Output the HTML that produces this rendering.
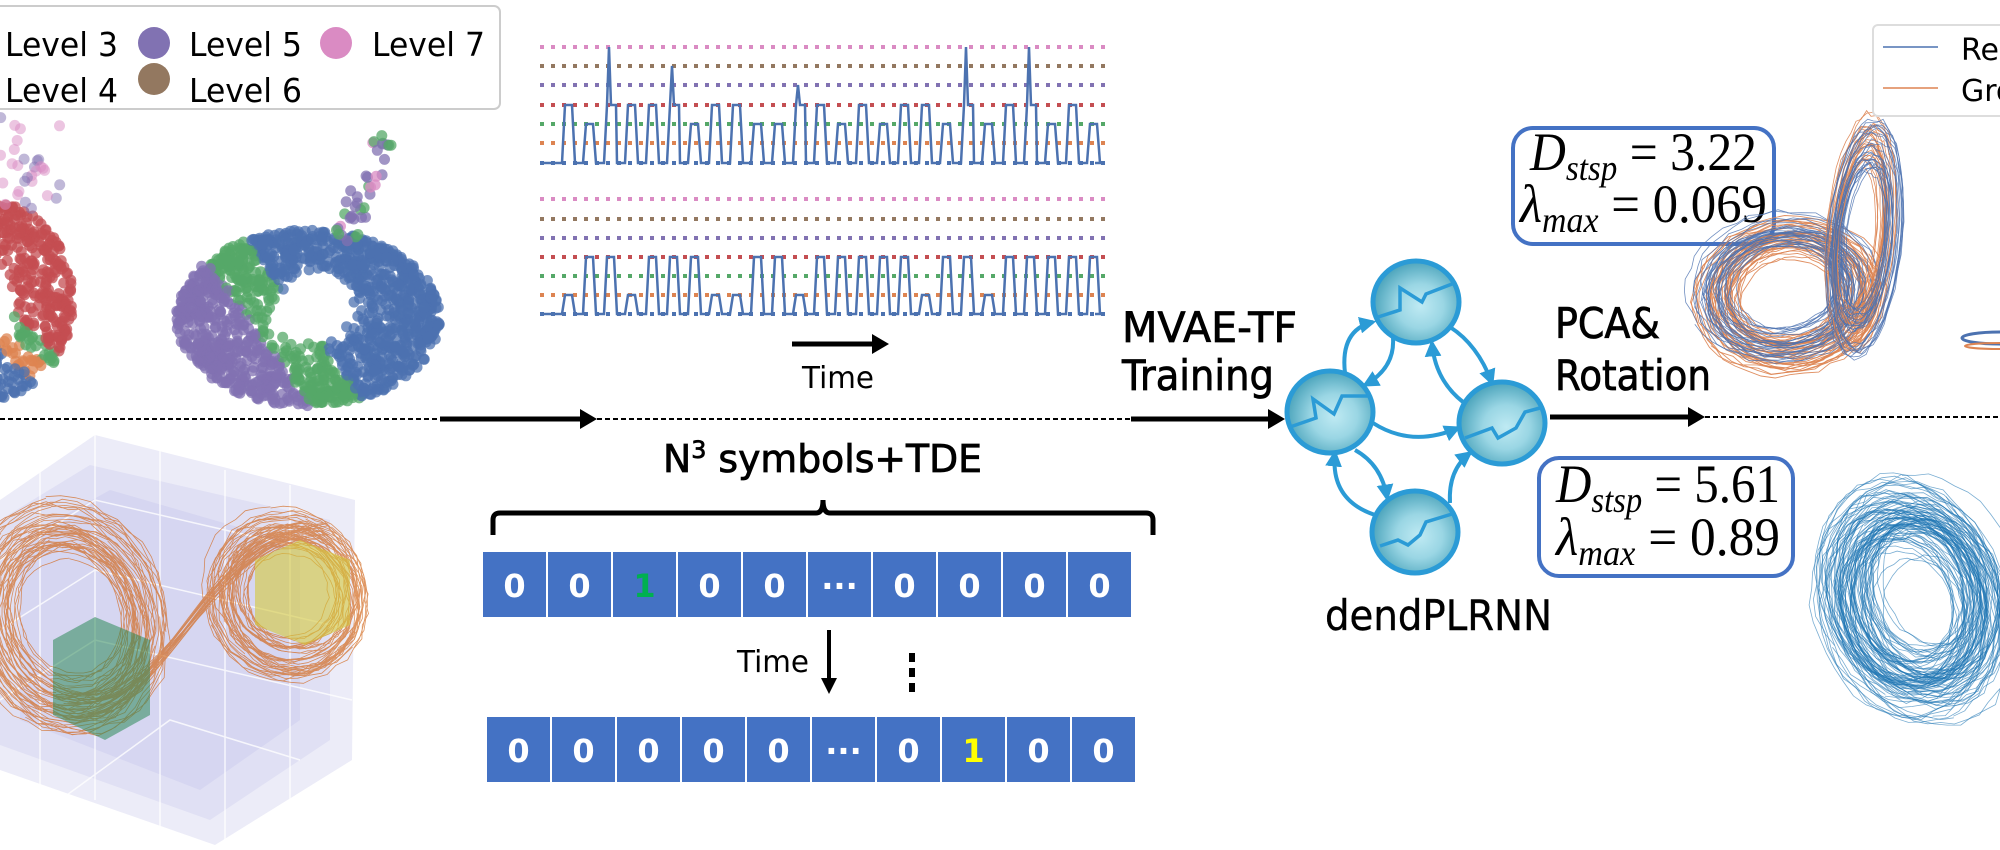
<!DOCTYPE html>
<html><head><meta charset="utf-8">
<style>
html,body{margin:0;padding:0;background:#fff;}
svg{display:block;}
text{font-family:"DejaVu Sans","Liberation Sans",sans-serif;}
.m{font-family:"Liberation Serif","DejaVu Serif",serif;}
</style></head>
<body>
<svg id="s" width="2000" height="850" viewBox="0 0 2000 850" xmlns="http://www.w3.org/2000/svg">
<defs>
<radialGradient id="ng" cx="0.55" cy="0.55" r="0.6">
<stop offset="0" stop-color="#bfeaf3"/><stop offset="0.45" stop-color="#9ad6e4"/><stop offset="1" stop-color="#3f9cb5"/>
</radialGradient>
<marker id="ah" viewBox="0 0 10 10" refX="8" refY="5" markerWidth="4.2" markerHeight="4.2" orient="auto"><path d="M0,0L10,5L0,10z" fill="#2b9bd6"/></marker>
</defs>

<g id="grid">
<polygon points="0,500 95,435 355,500 352,760 215,845 0,770" fill="#ececf8"/>
<polygon points="0,520 90,465 330,520 330,740 210,820 0,745" fill="#dcdcf2" opacity="0.7"/>
<polygon points="20,540 110,490 300,545 300,720 200,790 20,720" fill="#cfcfee" opacity="0.6"/>
<g stroke="#fff" stroke-width="1.5" opacity="0.8" fill="none">
<path d="M40,470 L40,790 M95,435 L95,800 M160,450 L160,830 M225,470 L225,845 M290,485 L290,800"/>
<path d="M0,560 L95,500 L355,560 M0,630 L95,570 L352,630 M0,700 L95,640 L352,700 M60,800 L170,720 L300,760"/>
</g>
</g>
<g id="lorenz" fill="none" stroke="#d2691e" stroke-width="0.8" opacity="0.7"></g>
<polygon points="53,640 95,617 150,640 150,715 105,740 53,715" fill="#2e8b57" opacity="0.55"/>
<polygon points="255,560 300,540 350,560 350,625 305,645 255,625" fill="#d4c83a" opacity="0.6"/>

<rect x="-6" y="6" width="506" height="103" rx="6" fill="#fff" stroke="#ccc" stroke-width="2"/>
<text x="5" y="56" font-size="33" textLength="113" lengthAdjust="spacingAndGlyphs">Level 3</text>
<circle cx="154" cy="43" r="16" fill="#8172b2"/>
<text x="189" y="56" font-size="33" textLength="113" lengthAdjust="spacingAndGlyphs">Level 5</text>
<circle cx="336" cy="43" r="16" fill="#da8bc3"/>
<text x="372" y="56" font-size="33" textLength="113" lengthAdjust="spacingAndGlyphs">Level 7</text>
<text x="5" y="102" font-size="33" textLength="113" lengthAdjust="spacingAndGlyphs">Level 4</text>
<circle cx="154" cy="79" r="16" fill="#937860"/>
<text x="189" y="102" font-size="33" textLength="113" lengthAdjust="spacingAndGlyphs">Level 6</text>

<g id="scatter"></g>
<g id="ts"></g>

<line x1="792" y1="344" x2="878" y2="344" stroke="#000" stroke-width="5"/>
<path d="M872,334 L889,344 L872,354z" fill="#000"/>
<text x="802" y="388" font-size="30" textLength="72" lengthAdjust="spacingAndGlyphs">Time</text>

<line x1="0" y1="419" x2="440" y2="419" stroke="#000" stroke-width="2" stroke-dasharray="5,3"/>
<line x1="440" y1="419" x2="585" y2="419" stroke="#000" stroke-width="5"/>
<path d="M580,409 L597,419 L580,429z" fill="#000"/>
<line x1="597" y1="419" x2="1131" y2="419" stroke="#000" stroke-width="2" stroke-dasharray="5,3"/>
<line x1="1131" y1="419" x2="1272" y2="419" stroke="#000" stroke-width="5"/>
<path d="M1268,409 L1285,419 L1268,429z" fill="#000"/>
<line x1="1550" y1="417" x2="1692" y2="417" stroke="#000" stroke-width="5"/>
<path d="M1688,407 L1705,417 L1688,427z" fill="#000"/>
<line x1="1705" y1="417" x2="2000" y2="417" stroke="#000" stroke-width="2" stroke-dasharray="5,3"/>

<text x="1122" y="342" font-size="42" textLength="175" lengthAdjust="spacingAndGlyphs" stroke="#000" stroke-width="0.8">MVAE-TF</text>
<text x="1122" y="390" font-size="42" textLength="152" lengthAdjust="spacingAndGlyphs" stroke="#000" stroke-width="0.8">Training</text>
<text x="1555" y="338" font-size="42" textLength="105" lengthAdjust="spacingAndGlyphs" stroke="#000" stroke-width="0.8">PCA&amp;</text>
<text x="1555" y="390" font-size="42" textLength="156" lengthAdjust="spacingAndGlyphs" stroke="#000" stroke-width="0.8">Rotation</text>

<g fill="none" stroke="#2b9bd6" stroke-width="4" marker-end="url(#ah)">
<path d="M1345,373 Q1340,330 1373,322"/>
<path d="M1393,338 Q1395,368 1365,385"/>
<path d="M1450,327 Q1478,345 1492,383"/>
<path d="M1463,402 Q1435,380 1432,343"/>
<path d="M1373,423 Q1412,448 1458,428"/>
<path d="M1355,450 Q1382,465 1387,498"/>
<path d="M1375,515 Q1330,500 1335,453"/>
<path d="M1450,503 Q1448,470 1470,453"/>
</g>
<g stroke="#2b9bd6" stroke-width="5" fill="url(#ng)">
<ellipse cx="1416" cy="302" rx="43" ry="41"/>
<ellipse cx="1330" cy="412" rx="43" ry="41"/>
<ellipse cx="1502" cy="423" rx="43" ry="41"/>
<ellipse cx="1415" cy="532" rx="43" ry="41"/>
</g>
<g fill="none" stroke="#2b9bd6" stroke-width="3.5">
<polyline points="1375,318 1400,310 1400,288 1422,302 1426,294 1452,284"/>
<polyline points="1290,427 1316,418 1313,399 1334,414 1342,396 1368,396"/>
<polyline points="1465,438 1492,428 1498,438 1516,428 1525,412 1540,408"/>
<polyline points="1380,546 1398,540 1408,545 1420,535 1426,522 1452,514"/>
</g>
<text x="1325" y="630" font-size="42" textLength="227" lengthAdjust="spacingAndGlyphs" stroke="#000" stroke-width="0.4">dendPLRNN</text>

<rect x="1513" y="128" width="261" height="116" rx="20" fill="#fff" stroke="#4472c4" stroke-width="4"/>
<text class="m" x="1530" y="170" font-size="54" textLength="227" lengthAdjust="spacingAndGlyphs"><tspan font-style="italic">D</tspan><tspan font-style="italic" font-size="36" dy="10">stsp</tspan><tspan dy="-10"> = 3.22</tspan></text>
<text class="m" x="1520" y="222" font-size="54" textLength="247" lengthAdjust="spacingAndGlyphs"><tspan font-style="italic">λ</tspan><tspan font-style="italic" font-size="36" dy="10">max</tspan><tspan dy="-10"> = 0.069</tspan></text>
<rect x="1539" y="458" width="254" height="118" rx="20" fill="#fff" stroke="#4472c4" stroke-width="4"/>
<text class="m" x="1556" y="502" font-size="54" textLength="224" lengthAdjust="spacingAndGlyphs"><tspan font-style="italic">D</tspan><tspan font-style="italic" font-size="36" dy="10">stsp</tspan><tspan dy="-10"> = 5.61</tspan></text>
<text class="m" x="1556" y="555" font-size="54" textLength="224" lengthAdjust="spacingAndGlyphs"><tspan font-style="italic">λ</tspan><tspan font-style="italic" font-size="36" dy="10">max</tspan><tspan dy="-10"> = 0.89</tspan></text>

<g id="attr" fill="none"></g>

<rect x="1873" y="25" width="140" height="91" rx="5" fill="#fff" stroke="#ddd" stroke-width="2"/>
<line x1="1883" y1="47" x2="1938" y2="47" stroke="#4c72b0" stroke-width="1.5"/>
<text x="1961" y="60" font-size="30">Rec</text>
<line x1="1883" y1="88" x2="1938" y2="88" stroke="#dd8452" stroke-width="1.5"/>
<text x="1961" y="101" font-size="30">Gro</text>

<text x="663" y="472" font-size="38" textLength="319" lengthAdjust="spacingAndGlyphs" stroke="#000" stroke-width="0.8">N<tspan font-size="24" dy="-14">3</tspan><tspan dy="14"> symbols+TDE</tspan></text>
<path d="M493,535 L493,520 Q493,513 500,513 L816,513 Q823,513 823,500 Q823,513 830,513 L1146,513 Q1153,513 1153,520 L1153,535" fill="none" stroke="#000" stroke-width="5"/>
<g id="cells"></g>
<line x1="829" y1="630" x2="829" y2="682" stroke="#000" stroke-width="4"/>
<path d="M821,678 L829,694 L837,678z" fill="#000"/>
<text x="737" y="672" font-size="30" textLength="72" lengthAdjust="spacingAndGlyphs">Time</text>
<g fill="#000"><rect x="909" y="653" width="6" height="9"/><rect x="909" y="668" width="6" height="9"/><rect x="909" y="683" width="6" height="9"/></g>
</svg>
<script>
var NS="http://www.w3.org/2000/svg";
function el(p,t,a){var e=document.createElementNS(NS,t);for(var k in a)e.setAttribute(k,a[k]);p.appendChild(e);return e;}
var seed=7;function rnd(){seed=(seed*16807)%2147483647;return (seed-1)/2147483646;}
var ts=document.getElementById('ts');
var cols=["#da8bc3","#937860","#8172b2","#c44e52","#55a868","#dd8452","#4c72b0"];
var ysT=[47,66,85,105,124,143,163],ysB=[199,219,238,257,276,295,314];
[ysT,ysB].forEach(function(ys){ys.forEach(function(y,i){el(ts,'line',{x1:540,y1:y,x2:1110,y2:y,stroke:cols[i],'stroke-width':4,'stroke-dasharray':'4,7'});});});
function series(ys,top){var pts=[],x=562,bi=0;pts.push([540,ys[6]]);
 var spikes=top?{2:ys[0],5:ys[1],11:ys[2],19:ys[0],22:ys[0]}:{};
 while(x<1095){var h;if(spikes[bi]!==undefined)h=spikes[bi];else h=top?(rnd()<0.65?ys[3]:ys[4]):(rnd()<0.75?ys[3]:ys[5]);
  pts.push([x,ys[6]]);
  if(spikes[bi]!==undefined){pts.push([x+3,ys[3]]);pts.push([x+5,h]);pts.push([x+7,ys[3]]);pts.push([x+12,ys[3]]);}
  else {pts.push([x+3,h]);pts.push([x+10,h]);}
  pts.push([x+13,ys[6]]);x+=21;bi++;}
 pts.push([1095,ys[6]]);
 el(ts,'polyline',{points:pts.map(function(p){return p.join(',')}).join(' '),fill:'none',stroke:'#4c72b0','stroke-width':2.5});}
series(ysT,true);series(ysB,false);
var sc=document.getElementById('scatter');
function dot(x,y,c,o){el(sc,'circle',{cx:x.toFixed(1),cy:y.toFixed(1),r:5.5,fill:c,'fill-opacity':o||0.75});}
for(var i=0;i<1500;i++){var a=rnd()*6.283,r=0.28+0.72*Math.sqrt(rnd());
 var x=308+Math.cos(a)*132*r,y=318+Math.sin(a)*88*r;
 var dx=(x-318)/36,dy=(y-297)/26;if(dx*dx+dy*dy<1)continue;
 var s=((x-222)*150-(y-245)*110)/186;var c=s<-22?"#8172b2":(s<22?"#55a868":"#4c72b0");dot(x,y,c);}
for(i=0;i<40;i++){var t=rnd();dot(345+t*45+rnd()*24-12,120+ (1-t)*110+rnd()*15,rnd()<0.15?"#da8bc3":(rnd()<0.25?"#55a868":"#8172b2"));}
for(i=0;i<800;i++){var a2=rnd()*6.283,r2=0.3+0.7*Math.sqrt(rnd());
 var x2=-15+Math.cos(a2)*88*r2,y2=300+Math.sin(a2)*100*r2;if(x2<-5)continue;
 var v=y2-x2*0.9;var c2=v<300?"#c44e52":(v<325?"#55a868":(v<350?"#dd8452":"#4c72b0"));dot(x2,y2,c2);}
for(i=0;i<30;i++){dot(rnd()*60,115+rnd()*95,rnd()<0.6?"#da8bc3":"#8172b2",0.5);}
function loops(g,cx,cy,rx,ry,rot,n,col,w,op,jit){
 for(var j=0;j<n;j++){var k=rnd(),pts=[],ph=rnd()*6.283,sx=rx*(0.55+0.45*k),sy=ry*(0.55+0.45*k),ox=(rnd()-0.5)*jit,oy=(rnd()-0.5)*jit;
  for(var q=0;q<=40;q++){var a=q/40*6.283+ph,rr=1+(rnd()-0.5)*0.06;var px=Math.cos(a)*sx*rr,py=Math.sin(a)*sy*rr;
   var cr=Math.cos(rot),sr=Math.sin(rot);pts.push((cx+ox+px*cr-py*sr).toFixed(1)+','+(cy+oy+px*sr+py*cr).toFixed(1));}
  el(g,'polyline',{points:pts.join(' '),stroke:col,'stroke-width':w,'stroke-opacity':op});}}
var lz=document.getElementById('lorenz');
loops(lz,70,620,95,115,-0.3,45,'#d2691e',0.8,1,25);
loops(lz,290,595,80,85,-0.5,40,'#d2691e',0.8,1,20);
for(i=0;i<20;i++){el(lz,'path',{d:'M'+(60+rnd()*40)+','+(690+rnd()*30)+' C'+(160)+','+(720)+' '+(200+rnd()*20)+','+(520+rnd()*20)+' '+(300+rnd()*30)+','+(520+rnd()*20)});}
var at=document.getElementById('attr');
loops(at,1790,295,95,78,-0.15,40,'#dd8452',0.9,0.9,15);
loops(at,1785,290,95,75,-0.15,30,'#4c72b0',0.8,0.8,15);
loops(at,1860,235,32,120,0.1,25,'#dd8452',0.8,0.9,10);
loops(at,1865,240,38,125,0.1,25,'#4c72b0',0.8,0.8,10);
loops(at,1915,600,85,110,-0.3,90,'#1f77b4',0.8,0.6,40);
el(at,'ellipse',{cx:2000,cy:338,rx:38,ry:6,stroke:'#4c72b0','stroke-width':3});
el(at,'ellipse',{cx:2000,cy:346,rx:35,ry:3,stroke:'#dd8452','stroke-width':2});
var ce=document.getElementById('cells');
function row(x0,y0,vals,col){vals.forEach(function(v,i){var x=x0+i*65;el(ce,'rect',{x:x,y:y0,width:63,height:65,fill:'#4472c4'});
 var t=el(ce,'text',{x:x+31.5,y:y0+45,'font-size':32,'font-weight':'bold','text-anchor':'middle',fill:(i==col?(y0<650?'#00b050':'#ffff00'):'#fff')});t.textContent=v;});}
row(483,552,["0","0","1","0","0","···","0","0","0","0"],2);
row(487,717,["0","0","0","0","0","···","0","1","0","0"],7);
</script>
</body></html>
